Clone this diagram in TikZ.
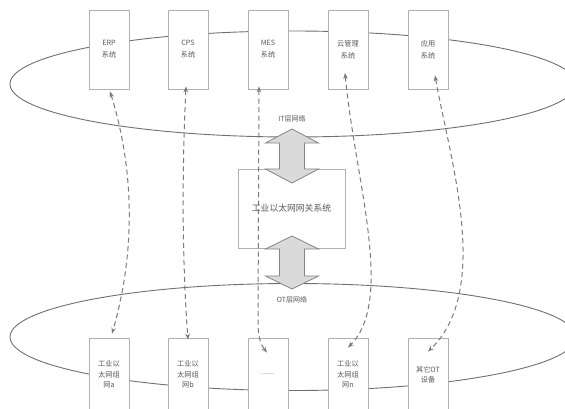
\documentclass[tikz,border=0pt]{standalone}
\usepackage{fontspec}
\newfontfamily\cjk{Noto Sans CJK SC}
\usetikzlibrary{arrows.meta}
\definecolor{boxline}{HTML}{B0B0B0}
\definecolor{ringline}{HTML}{707070}
\definecolor{dashline}{HTML}{7A7A7A}
\definecolor{txt}{HTML}{5A5A5A}
\definecolor{arrfill}{HTML}{DADADA}
\definecolor{arrline}{HTML}{858585}
\begin{document}
\begin{tikzpicture}[x=1pt,y=-1pt,
  sysbox/.style={draw=boxline, fill=white, line width=0.8pt, minimum width=40pt, minimum height=79pt, inner sep=0pt, align=center, font=\cjk\fontsize{7.2}{12}\selectfont, text=txt},
  otbox/.style={draw=boxline, fill=white, line width=0.8pt, minimum width=40pt, minimum height=73pt, inner sep=0pt, align=center, font=\cjk\fontsize{7.2}{10.5}\selectfont, text=txt},
  gwbox/.style={draw=boxline, line width=0.8pt, minimum width=107pt, minimum height=79pt, inner sep=0pt, font=\cjk\fontsize{8.8}{11}\selectfont, text=txt},
  ring/.style={draw=ringline, line width=0.9pt},
  lbl/.style={font=\cjk\fontsize{7}{9}\selectfont, text=txt, inner sep=0pt},
  link/.style={draw=dashline, line width=1pt, dash pattern=on 5pt off 3.5pt, {Stealth[length=6pt,width=4.5pt]}-{Stealth[length=6pt,width=4.5pt]}},
  bigarrow/.style={fill=arrfill, draw=arrline, line width=0.8pt, line join=miter}
]
\useasboundingbox (0,0) rectangle (565,409);
\clip (0,0) rectangle (565,409);
\fill[white] (0,0) rectangle (565,409);

% network rings
\draw[ring] (293,84) ellipse [x radius=283pt, y radius=53pt];
\draw[ring] (293,337) ellipse [x radius=283pt, y radius=53.5pt];

% IT systems
\node[sysbox] (erp)   at (109,49.5) {ERP\\系统};
\node[sysbox] (cps)   at (188,49.5) {CPS\\系统};
\node[sysbox] (mes)   at (268,49.5) {MES\\系统};
\node[sysbox] (cloud) at (348,49.5) {云管理\\系统};
\node[sysbox] (app)   at (428,49.5) {应用\\系统};

% OT side
\node[otbox] (ota)  at (109,374.5) {工业以\\太网组\\网a};
\node[otbox] (otb)  at (188,374.5) {工业以\\太网组\\网b};
\node[otbox] (dots) at (268,374.5) {......};
\node[otbox] (otn)  at (348,374.5) {工业以\\太网组\\网n};
\node[otbox] (oth)  at (428,374.5) {其它OT\\设备};

% labels
\node[lbl] (itl) at (292,119) {IT层网络};
\node[lbl] (otl) at (292,300) {OT层网络};

% gateway
\node[gwbox] (gw) at (291.5,208.5) {工业以太网网关系统};

% double arrows
\draw[bigarrow] (292,129) -- (318.5,143) -- (304.5,143) -- (304.5,169) -- (318.5,169) -- (292,183)
  -- (265.5,169) -- (279.5,169) -- (279.5,143) -- (265.5,143) -- cycle;
\draw[bigarrow] (292,236) -- (318.5,249) -- (304.5,249) -- (304.5,276) -- (318.5,276) -- (292,289)
  -- (265.5,276) -- (279.5,276) -- (279.5,249) -- (265.5,249) -- cycle;

% dashed links
\draw[link] ([shift={(1,2)}]erp.south) .. controls (135,172) and (135,254) .. ([shift={(3,-4)}]ota.north);
\draw[link] ([shift={(-2,-3)}]cps.south) .. controls (182,170) and (182,260) .. ([shift={(0,2)}]otb.north);
\draw[link] ([shift={(-9,-3)}]mes.south) -- (258,322) .. controls (258,340) and (262,346) .. ([shift={(-1,15)}]dots.north);
\draw[link] ([shift={(-3,-16.5)}]cloud.south) .. controls (355,180) and (395,300) .. ([shift={(0,10)}]otn.north);
\draw[link] ([shift={(7,-14)}]app.south) .. controls (450,160) and (492,290) .. ([shift={(0,14)}]oth.north);
\end{tikzpicture}
\end{document}
